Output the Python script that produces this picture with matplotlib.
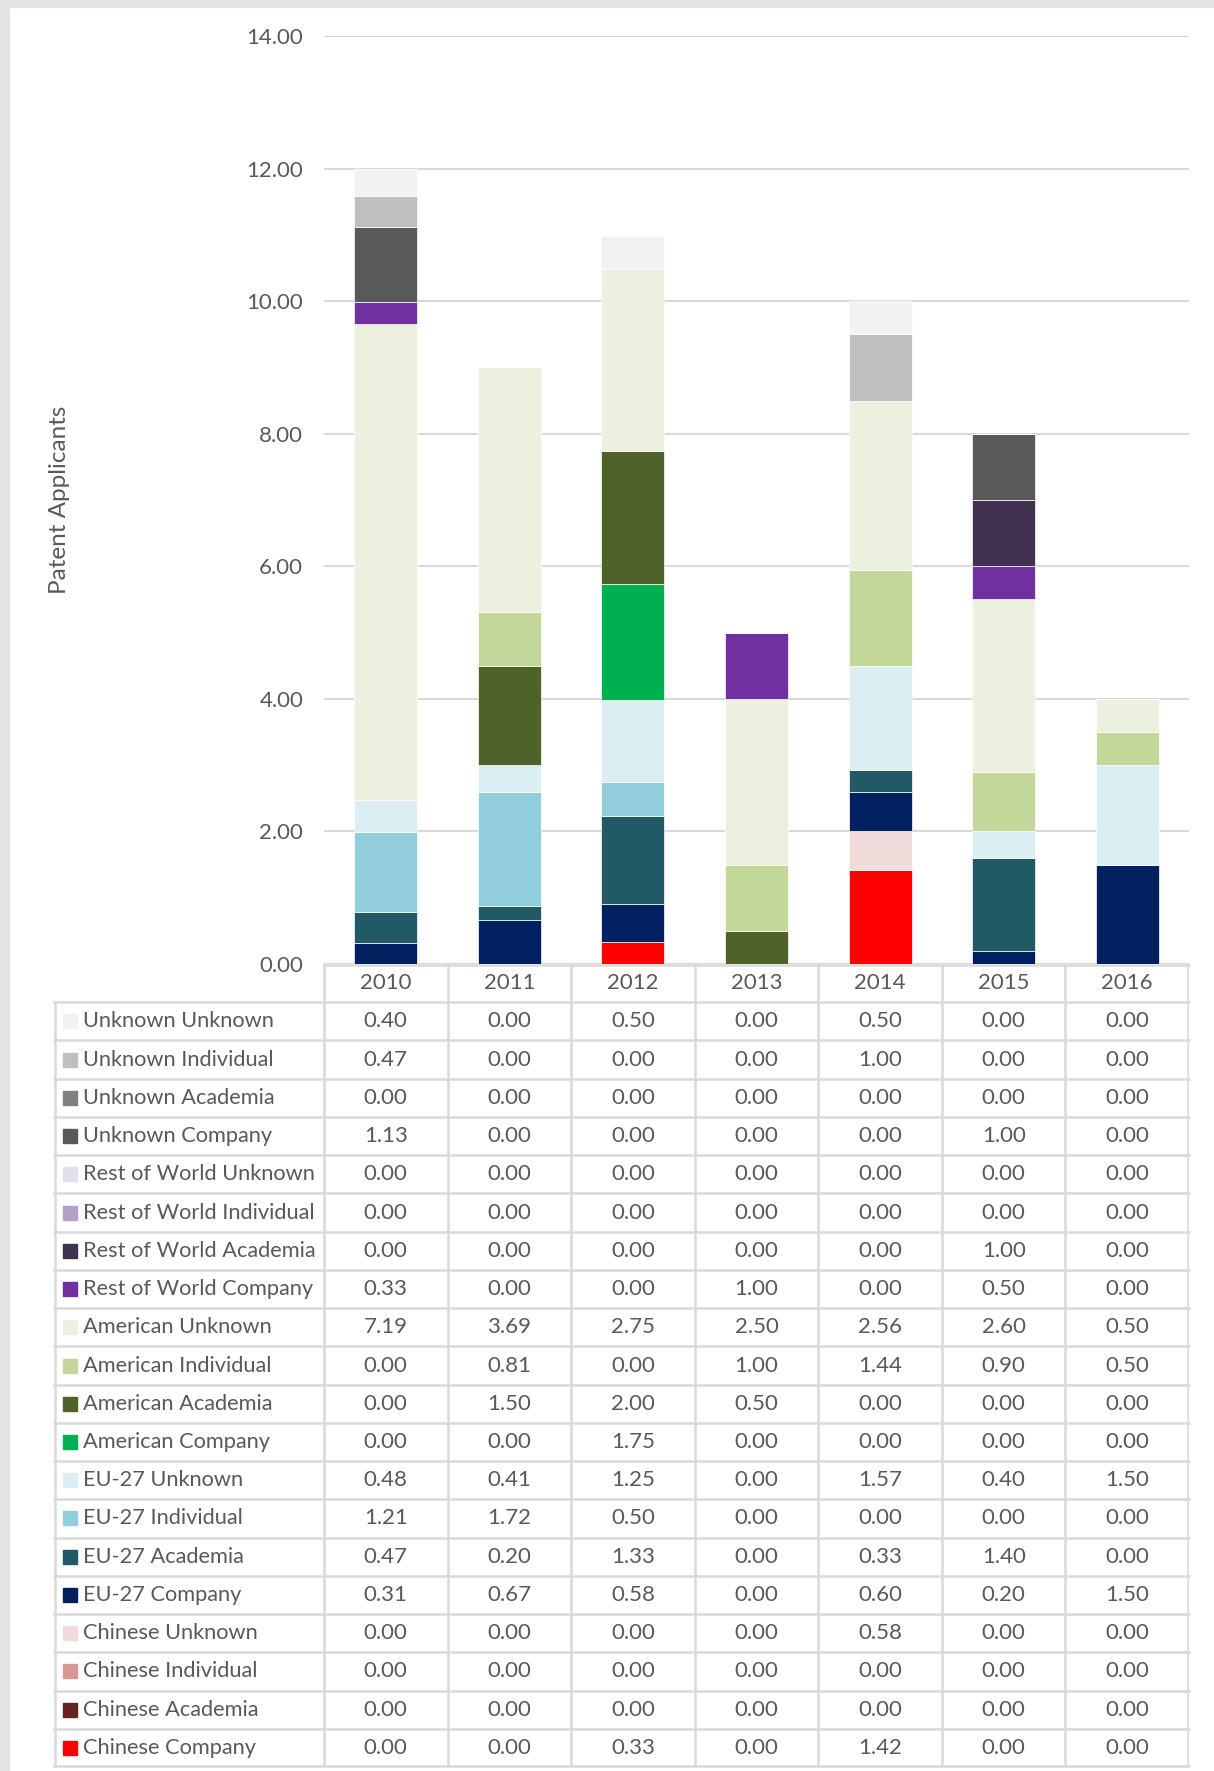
import numpy as np
import matplotlib.pyplot as plt
from matplotlib.patches import Rectangle

plt.rcParams['font.family'] = ['Lato', 'DejaVu Sans']

years = ['2010', '2011', '2012', '2013', '2014', '2015', '2016']

# table order, top to bottom (stacking goes the other way)
series = ['Unknown Unknown', 'Unknown Individual', 'Unknown Academia', 'Unknown Company',
          'Rest of World Unknown', 'Rest of World Individual', 'Rest of World Academia',
          'Rest of World Company', 'American Unknown', 'American Individual',
          'American Academia', 'American Company', 'EU-27 Unknown', 'EU-27 Individual',
          'EU-27 Academia', 'EU-27 Company', 'Chinese Unknown', 'Chinese Individual',
          'Chinese Academia', 'Chinese Company']

unknown_unknown = [0.40, 0.00, 0.50, 0.00, 0.50, 0.00, 0.00]
unknown_individual = [0.47, 0.00, 0.00, 0.00, 1.00, 0.00, 0.00]
unknown_academia = [0.00, 0.00, 0.00, 0.00, 0.00, 0.00, 0.00]
unknown_company = [1.13, 0.00, 0.00, 0.00, 0.00, 1.00, 0.00]
row_unknown = [0.00, 0.00, 0.00, 0.00, 0.00, 0.00, 0.00]
row_individual = [0.00, 0.00, 0.00, 0.00, 0.00, 0.00, 0.00]
row_academia = [0.00, 0.00, 0.00, 0.00, 0.00, 1.00, 0.00]
row_company = [0.33, 0.00, 0.00, 1.00, 0.00, 0.50, 0.00]
us_unknown = [7.19, 3.69, 2.75, 2.50, 2.56, 2.60, 0.50]
us_individual = [0.00, 0.81, 0.00, 1.00, 1.44, 0.90, 0.50]
us_academia = [0.00, 1.50, 2.00, 0.50, 0.00, 0.00, 0.00]
us_company = [0.00, 0.00, 1.75, 0.00, 0.00, 0.00, 0.00]
eu_unknown = [0.48, 0.41, 1.25, 0.00, 1.57, 0.40, 1.50]
eu_individual = [1.21, 1.72, 0.50, 0.00, 0.00, 0.00, 0.00]
eu_academia = [0.47, 0.20, 1.33, 0.00, 0.33, 1.40, 0.00]
eu_company = [0.31, 0.67, 0.58, 0.00, 0.60, 0.20, 1.50]
cn_unknown = [0.00, 0.00, 0.00, 0.00, 0.58, 0.00, 0.00]
cn_individual = [0.00, 0.00, 0.00, 0.00, 0.00, 0.00, 0.00]
cn_academia = [0.00, 0.00, 0.00, 0.00, 0.00, 0.00, 0.00]
cn_company = [0.00, 0.00, 0.33, 0.00, 1.42, 0.00, 0.00]

values = [unknown_unknown, unknown_individual, unknown_academia, unknown_company,
          row_unknown, row_individual, row_academia, row_company,
          us_unknown, us_individual, us_academia, us_company,
          eu_unknown, eu_individual, eu_academia, eu_company,
          cn_unknown, cn_individual, cn_academia, cn_company]

colors = ['#F2F2F2', '#BFBFBF', '#808080', '#595959',
          '#E4DFEC', '#B1A0C7', '#403151', '#7030A0',
          '#EBF1DE', '#C4D79B', '#4F6228', '#00B050',
          '#DAEEF3', '#92CDDC', '#215967', '#002060',
          '#F2DCDB', '#DA9694', '#632523', '#FF0000']

txt = '#595959'
gridc = '#D9D9D9'
fs = 16
W, H = 1214, 1771

fig = plt.figure(figsize=(W / 100, H / 100), dpi=100)
fig.patches.append(Rectangle((0, 1 - 7 / H), 1, 7 / H, transform=fig.transFigure,
                             color='#E3E3E3', zorder=0))
fig.patches.append(Rectangle((0, 0), 9 / W, 1, transform=fig.transFigure,
                             color='#E3E3E3', zorder=0))

# chart area
x0, x1 = 324, 1189
ytop, ybot = 36, 964
ax = fig.add_axes([x0 / W, 1 - ybot / H, (x1 - x0) / W, (ybot - ytop) / H])
x = np.arange(len(years))
bottom = np.zeros(len(years))
for name, vals, c in zip(series[::-1], values[::-1], colors[::-1]):
    ax.bar(x, vals, 0.51, bottom=bottom, color=c, edgecolor='white', linewidth=0.5,
           zorder=3)
    bottom += np.array(vals)
ax.set_xlim(-0.5, len(years) - 0.5)
ax.set_ylim(0, 14)
ax.set_yticks(np.arange(0, 15, 2))
ax.set_yticklabels(['%.2f' % v for v in np.arange(0, 15, 2)])
ax.set_xticks([])
ax.tick_params(axis='y', length=0, pad=15, labelsize=fs, labelcolor=txt)
ax.grid(axis='y', color=gridc, linewidth=1.5, zorder=0)
for s in ax.spines.values():
    s.set_visible(False)
fig.text(60 / W, 1 - 500 / H, 'Patent Applicants', rotation=90, ha='center',
         va='center', fontsize=17.5, color=txt)

# data table underneath
tleft, tbot = 54, 1767
colw = (x1 - x0) / len(years)
rowh = (tbot - ybot) / (len(series) + 1)
tx = fig.add_axes([tleft / W, 1 - tbot / H, (x1 - tleft) / W, (tbot - ybot) / H])
tx.set_xlim(tleft, x1)
tx.set_ylim(tbot, ybot)
tx.axis('off')
lw = 1.8
tx.plot([x0, x1], [ybot + 1, ybot + 1], color=gridc, lw=lw, clip_on=False)
for i in range(1, len(series) + 2):
    yy = ybot + i * rowh
    if i == len(series) + 1:
        yy -= 1
    tx.plot([tleft, x1], [yy, yy], color=gridc, lw=lw, clip_on=False)
tx.plot([tleft + 1, tleft + 1], [ybot + rowh, tbot], color=gridc, lw=lw)
for j in range(len(years) + 1):
    xx = x0 + j * colw
    if j == len(years):
        xx -= 1
    tx.plot([xx, xx], [ybot, tbot], color=gridc, lw=lw)

for j, yr in enumerate(years):
    tx.text(x0 + (j + 0.5) * colw, ybot + rowh / 2, yr, ha='center', va='center',
            fontsize=fs, color=txt)
for i, (name, vals, c) in enumerate(zip(series, values, colors)):
    yc = ybot + (i + 1.5) * rowh
    tx.add_patch(Rectangle((63, yc - 7), 14, 14, color=c))
    tx.text(83, yc, name, ha='left', va='center', fontsize=15.7, color=txt)
    for j, v in enumerate(vals):
        tx.text(x0 + (j + 0.5) * colw, yc, '%.2f' % v, ha='center', va='center',
                fontsize=fs, color=txt)

fig.savefig('out.png', dpi=100, facecolor='white')
